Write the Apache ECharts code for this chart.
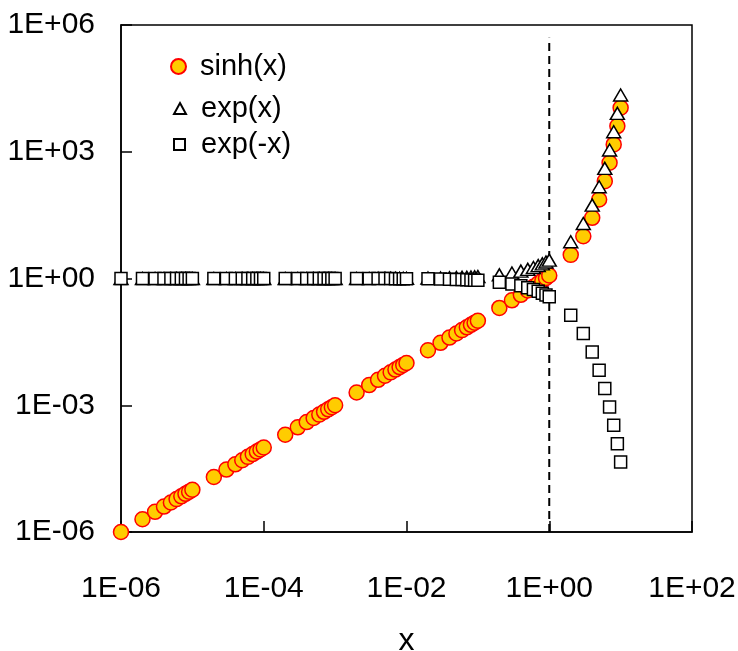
<!DOCTYPE html>
<html>
<head>
<meta charset="utf-8">
<script src="https://cdn.jsdelivr.net/npm/echarts@6/dist/echarts.min.js"></script>
<style>
  html, body { margin: 0; padding: 0; background: #fff; }
  #chart { width: 738px; height: 651px; }
</style>
</head>
<body>
<div id="chart"></div>
<script>
// Sample points: 1..9 × 10^k for k = -6..-1, then 1..10
const xValues = [
  1e-6, 2e-6, 3e-6, 4e-6, 5e-6, 6e-6, 7e-6, 8e-6, 9e-6,
  1e-5, 2e-5, 3e-5, 4e-5, 5e-5, 6e-5, 7e-5, 8e-5, 9e-5,
  1e-4, 2e-4, 3e-4, 4e-4, 5e-4, 6e-4, 7e-4, 8e-4, 9e-4,
  0.001, 0.002, 0.003, 0.004, 0.005, 0.006, 0.007, 0.008, 0.009,
  0.01, 0.02, 0.03, 0.04, 0.05, 0.06, 0.07, 0.08, 0.09,
  0.1, 0.2, 0.3, 0.4, 0.5, 0.6, 0.7, 0.8, 0.9,
  1, 2, 3, 4, 5, 6, 7, 8, 9, 10
];

const sinhValues = [
  1e-6, 2e-6, 3e-6, 4e-6, 5e-6, 6e-6, 7e-6, 8e-6, 9e-6,
  1e-5, 2e-5, 3e-5, 4e-5, 5e-5, 6e-5, 7e-5, 8e-5, 9e-5,
  1e-4, 2e-4, 3e-4, 4e-4, 5e-4, 6e-4, 7e-4, 8e-4, 9e-4,
  0.001, 0.002, 0.003, 0.004, 0.005, 0.006, 0.007, 0.008, 0.009,
  0.01, 0.02, 0.03, 0.04, 0.05, 0.06, 0.07, 0.08, 0.0901,
  0.1002, 0.2013, 0.3045, 0.4108, 0.5211, 0.6367, 0.7586, 0.8881, 1.0265,
  1.1752, 3.627, 10.018, 27.29, 74.20, 201.7, 548.3, 1490.5, 4051.5, 11013
];

const expValues = [
  1, 1, 1, 1, 1, 1, 1, 1, 1,
  1, 1, 1, 1, 1, 1, 1, 1, 1,
  1, 1, 1, 1, 1, 1, 1, 1, 1,
  1.001, 1.002, 1.003, 1.004, 1.005, 1.006, 1.007, 1.008, 1.009,
  1.0101, 1.0202, 1.0305, 1.0408, 1.0513, 1.0618, 1.0725, 1.0833, 1.0942,
  1.1052, 1.2214, 1.3499, 1.4918, 1.6487, 1.8221, 2.0138, 2.2255, 2.4596,
  2.7183, 7.389, 20.09, 54.60, 148.4, 403.4, 1096.6, 2981, 8103, 22026
];

const expNegValues = [
  1, 1, 1, 1, 1, 1, 1, 1, 1,
  1, 1, 1, 1, 1, 1, 1, 1, 1,
  1, 1, 1, 1, 1, 1, 1, 1, 1,
  0.999, 0.998, 0.997, 0.996, 0.995, 0.994, 0.993, 0.992, 0.991,
  0.9900, 0.9802, 0.9704, 0.9608, 0.9512, 0.9418, 0.9324, 0.9231, 0.9139,
  0.9048, 0.8187, 0.7408, 0.6703, 0.6065, 0.5488, 0.4966, 0.4493, 0.4066,
  0.3679, 0.1353, 0.04979, 0.01832, 0.006738, 0.002479, 0.000912, 0.0003355, 0.0001234, 0.0000454
];

// Dashed reference line at x = 1
const refLineX = [1, 1];
const refLineY = [1e-6, 5e5];

const xTickValues = [1e-6, 1e-4, 1e-2, 1, 1e2];
const xTickLabels = ['1E-06', '1E-04', '1E-02', '1E+00', '1E+02'];
const yTickValues = [1e-6, 1e-3, 1, 1e3, 1e6];
const yTickLabels = ['1E-06', '1E-03', '1E+00', '1E+03', '1E+06'];

const FONT = "'Liberation Sans', Arial, sans-serif";

function pickLabel(values, labels, v) {
  let best = 0, bestD = Infinity;
  values.forEach((t, i) => {
    const d = Math.abs(Math.log10(t) - Math.log10(v));
    if (d < bestD) { bestD = d; best = i; }
  });
  return bestD < 1e-6 ? labels[best] : '';
}

const pairs = (xs, ys) => xs.map((x, i) => [x, ys[i]]);

const axisCommon = {
  type: 'log',
  logBase: 10,
  axisLine: { show: true, onZero: false, lineStyle: { color: '#000', width: 1.5 } },
  axisTick: { show: true, inside: true, length: 11, lineStyle: { color: '#000', width: 1.5 } },
  splitLine: { show: false },
  minorTick: { show: false },
  axisLabel: { color: '#000', fontFamily: FONT, fontSize: 30 }
};

const chart = echarts.init(document.getElementById('chart'), null, { renderer: 'canvas' });

const legendText = { color: '#000', fontFamily: FONT, fontSize: 29 };

chart.setOption({
  animation: false,
  backgroundColor: '#fff',
  grid: {
    left: 121, right: 46, top: 25, bottom: 119,
    containLabel: false, outerBoundsMode: 'none',
    show: true, borderColor: '#000', borderWidth: 1.5, backgroundColor: 'transparent'
  },
  legend: [
    {
      data: ['sinh(x)'], orient: 'vertical', left: 170, top: 52,
      itemWidth: 15, itemHeight: 15, padding: 0,
      textStyle: Object.assign({}, legendText, { padding: [0, 0, 0, 9] })
    },
    {
      data: ['exp(x)'], orient: 'vertical', left: 173, top: 94,
      itemWidth: 12, itemHeight: 11, padding: 0,
      textStyle: Object.assign({}, legendText, { padding: [0, 0, 0, 10] })
    },
    {
      data: ['exp(-x)'], orient: 'vertical', left: 173, top: 130,
      itemWidth: 11, itemHeight: 11, padding: 0,
      textStyle: Object.assign({}, legendText, { padding: [0, 0, 0, 11] })
    }
  ],
  xAxis: Object.assign({}, axisCommon, {
    min: 1e-6, max: 100, interval: 2,
    name: 'x', nameLocation: 'middle', nameGap: 93,
    nameTextStyle: { color: '#000', fontFamily: FONT, fontSize: 32 },
    axisLabel: Object.assign({}, axisCommon.axisLabel, {
      margin: 42,
      formatter: v => pickLabel(xTickValues, xTickLabels, v)
    })
  }),
  yAxis: Object.assign({}, axisCommon, {
    min: 1e-6, max: 1e6, interval: 3,
    axisLabel: Object.assign({}, axisCommon.axisLabel, {
      margin: 26,
      formatter: v => pickLabel(yTickValues, yTickLabels, v)
    })
  }),
  series: [
    {
      name: 'ref', type: 'line', data: pairs(refLineX, refLineY),
      symbol: 'none', silent: true, z: 1,
      lineStyle: { color: '#000', width: 2, type: [8, 5] }
    },
    {
      name: 'sinh(x)', type: 'scatter', data: pairs(xValues, sinhValues),
      symbol: 'circle', symbolSize: 15, z: 2,
      itemStyle: { color: '#FFCC00', borderColor: '#FF0000', borderWidth: 1.5, opacity: 1 }
    },
    {
      name: 'exp(x)', type: 'scatter', data: pairs(xValues, expValues),
      symbol: 'triangle', symbolSize: [14, 12], z: 3,
      itemStyle: { color: '#FFFFFF', borderColor: '#000', borderWidth: 1.5, opacity: 1 }
    },
    {
      name: 'exp(-x)', type: 'scatter', data: pairs(xValues, expNegValues),
      symbol: 'rect', symbolSize: 12, z: 4,
      itemStyle: { color: '#FFFFFF', borderColor: '#000', borderWidth: 1.5, opacity: 1 }
    }
  ]
});
</script>
</body>
</html>
